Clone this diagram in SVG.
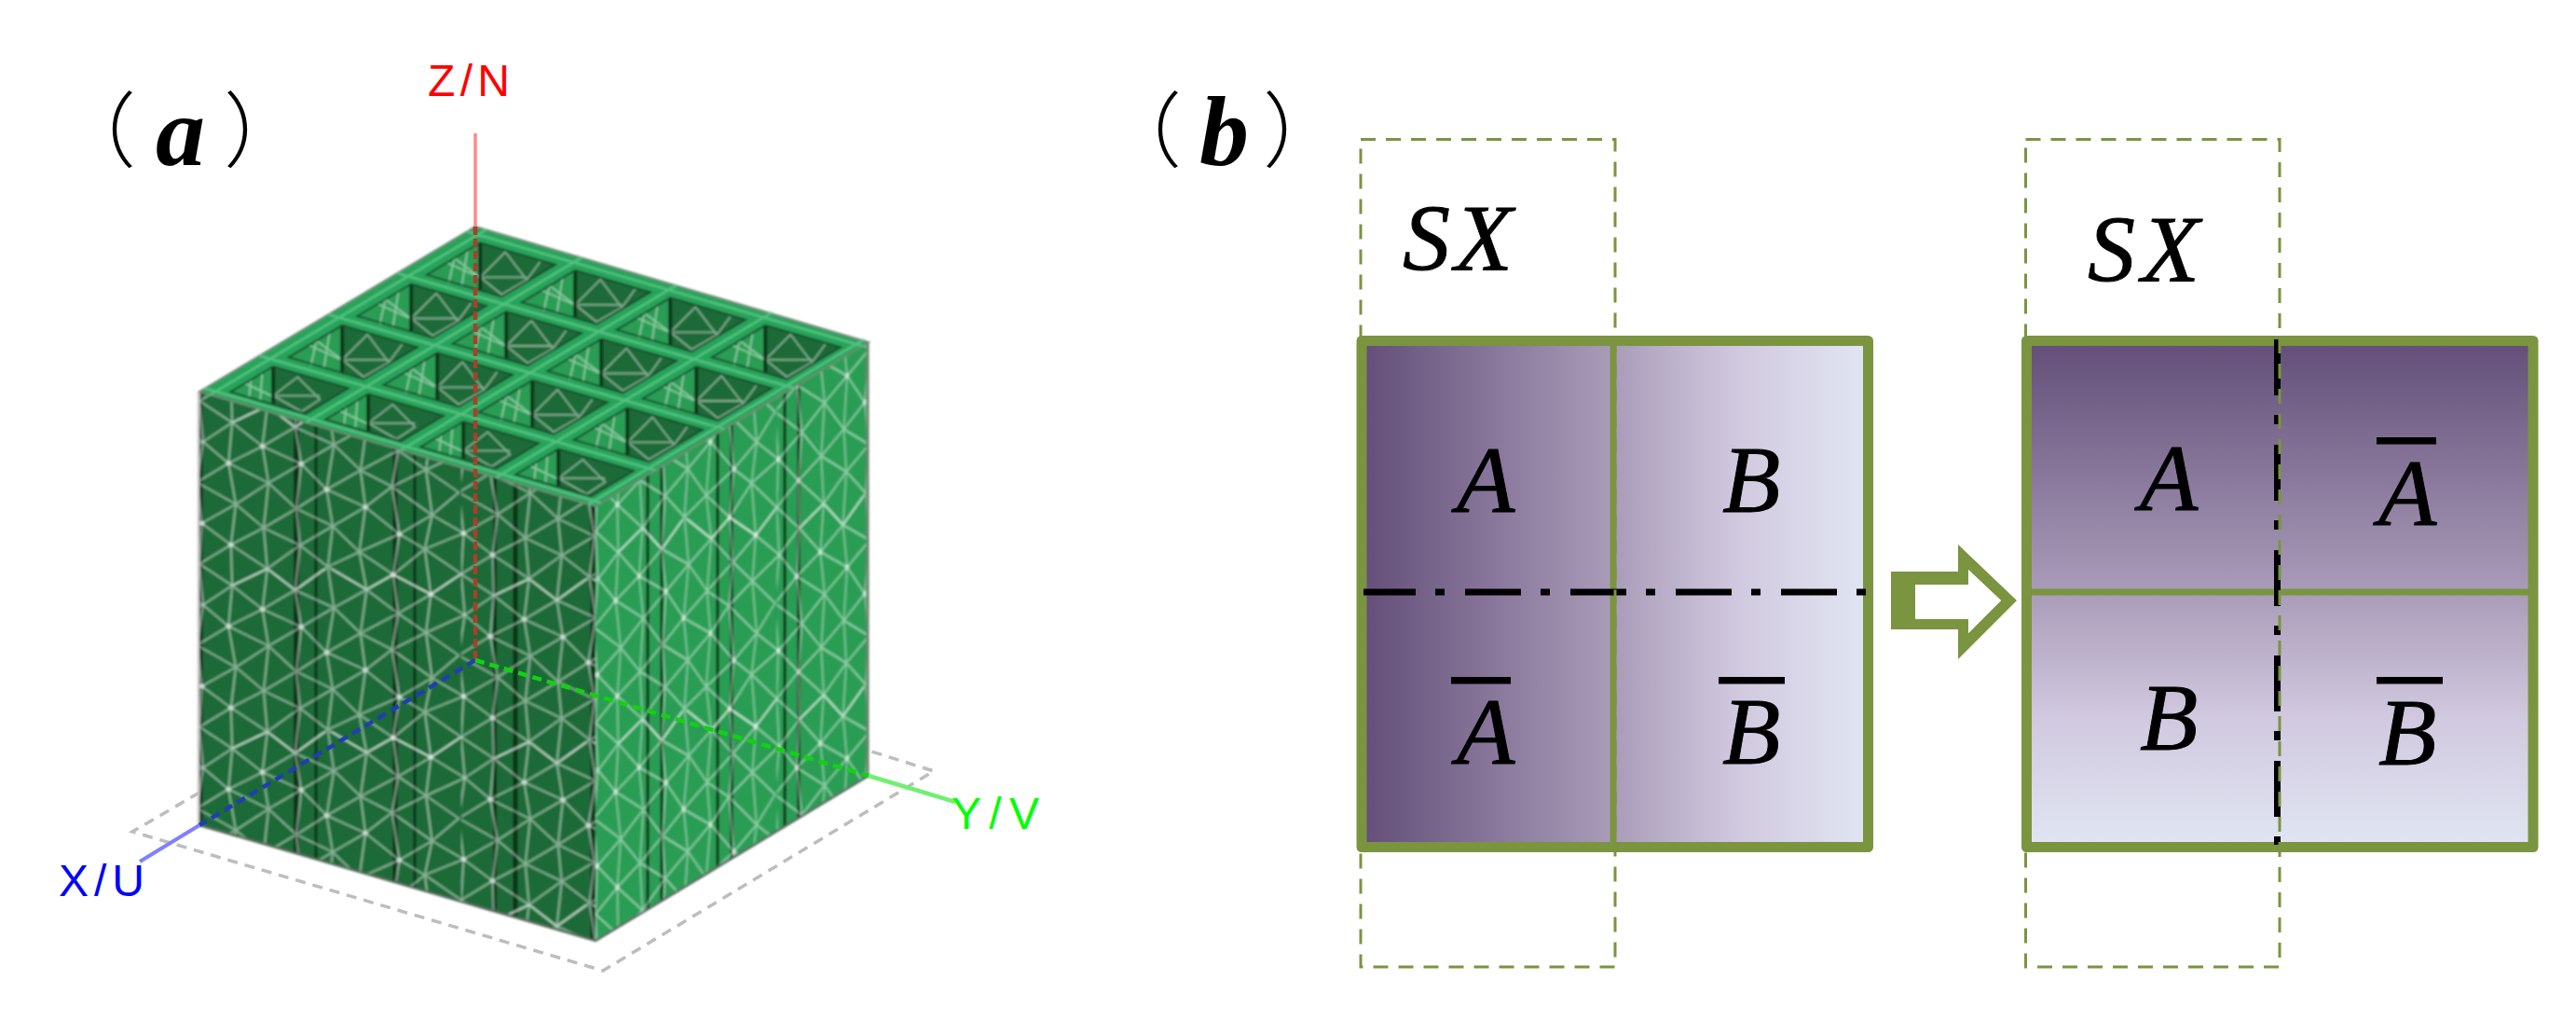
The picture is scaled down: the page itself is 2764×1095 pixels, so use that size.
<svg xmlns="http://www.w3.org/2000/svg" xmlns:xlink="http://www.w3.org/1999/xlink" width="2764" height="1095" viewBox="0 0 2764 1095">
<style>
.m{font-family:"Liberation Serif","Noto Sans CJK SC",serif;font-style:italic;font-size:102px;fill:#000;stroke:#000;stroke-width:.9}
.pl{font-family:"Noto Sans CJK SC","Liberation Serif",serif;font-size:88px;font-weight:300;fill:#000}
.lab{font-family:"Liberation Serif",serif;font-style:italic;font-weight:bold;font-size:106px;fill:#000}
.ax{font-family:"Liberation Sans",sans-serif;font-size:48px}
.bar{fill:#000}
.dr{fill:none;stroke:#7a9440;stroke-width:3;stroke-dasharray:16 11}
.box{stroke:#7a9440;stroke-width:11;stroke-linejoin:round}
.div{stroke:#7a9440;stroke-width:7;fill:none}
.dd{stroke:#000;stroke-width:7;stroke-dasharray:60 21 10 22;fill:none}
.rib{stroke:#0b3418;fill:none}
.meshl{stroke:#fff;stroke-opacity:.46;stroke-width:1.8;fill:none}
.dots{stroke:#fff;stroke-opacity:.55;stroke-width:4.500;stroke-linecap:round;fill:none}
.cm{stroke:#fff;stroke-opacity:.45;stroke-width:1.8;fill:none}
.hl{stroke:#5cc789;stroke-width:2.600;stroke-opacity:.85;fill:none}
</style>
<defs>
<linearGradient id="gh" gradientUnits="userSpaceOnUse" x1="1466" y1="0" x2="1999" y2="0">
<stop offset="0" stop-color="#64507a"/><stop offset=".5" stop-color="#aa9cb9"/><stop offset=".75" stop-color="#d1c9df"/><stop offset="1" stop-color="#e0e4f2"/>
</linearGradient>
<linearGradient id="gv" gradientUnits="userSpaceOnUse" x1="0" y1="371" x2="0" y2="903">
<stop offset="0" stop-color="#64507a"/><stop offset=".5" stop-color="#aa9cb9"/><stop offset=".75" stop-color="#d1c9df"/><stop offset="1" stop-color="#e0e4f2"/>
</linearGradient>
<g id="mt">
<path class="meshl" d="M0 0L3 38L-2 76L2 114L0 152M27 19L24 57L30 95L26 133L27 171M56 2L52 40L57 74L53 116L56 154M79 21L84 55L80 97L83 131L79 173M106 -2L111 36L105 78L110 112L106 150M138 18L133 59L137 93L132 135L138 170M160 3L164 39L159 73L165 117L160 155M191 20L187 56L192 98L186 130L191 172M0 0L27 19L3 38L24 57L-2 76L30 95L2 114L26 133L0 152M56 2L27 19L52 40L24 57L57 74L30 95L53 116L26 133L56 154L27 171M56 2L79 21L52 40L84 55L57 74L80 97L53 116L83 131L56 154L79 173M106 -2L79 21L111 36L84 55L105 78L80 97L110 112L83 131L106 150L79 173M106 -2L138 18L111 36L133 59L105 78L137 93L110 112L132 135L106 150L138 170M160 3L138 18L164 39L133 59L159 73L137 93L165 117L132 135L160 155L138 170M160 3L191 20L164 39L187 56L159 73L192 98L165 117L186 130L160 155L191 172M216 0L191 20L219 38L187 56L214 76L192 98L218 114L186 130L216 152L191 172"/>
<path class="dots" d="M52 40h0M105 78h0M137 93h0M165 117h0M24 57h0M84 55h0M191 20h0M26 133h0M160 3h0M2 114h0"/>
</g>
<pattern id="pl" patternUnits="userSpaceOnUse" width="216" height="152" patternTransform="matrix(1.3 .05 0 1.15 214 430)">
<use xlink:href="#mt"/><use xlink:href="#mt" x="-216"/><use xlink:href="#mt" y="-152"/><use xlink:href="#mt" x="-216" y="-152"/>
</pattern>
<pattern id="pr" patternUnits="userSpaceOnUse" width="216" height="152" patternTransform="matrix(.9 -.12 0 1.35 639 570)">
<use xlink:href="#mt"/><use xlink:href="#mt" x="-216"/><use xlink:href="#mt" y="-152"/><use xlink:href="#mt" x="-216" y="-152"/>
</pattern>
<g id="cell">
<path d="M0 0L57.700 -34.500V16.700Z" fill="#2a9d55"/>
<path d="M57.700 -34.500L138.450 -11.100L80.750 23.400L57.700 16.700Z" fill="#1e6b37"/>
<path class="cm" d="M30 -18L24 9M44 -26L38 12M22 -13L57.700 3M30 -18L57.700 3M57.700 2.500L84.700 -24.500L107.700 5.500L80.700 21L57.700 2.500ZM57.700 2.500H107.700M107.700 5.500L122 -14"/>
<path d="M57.700 -34.500V16.700" stroke="#0b3418" stroke-width="4"/>
<path d="M0 0L57.700 -34.500L138.450 -11.100L80.750 23.400Z" fill="none" stroke="#1d4a2e" stroke-width="2"/>
</g>
<g id="cell0">
<path d="M0 0L45.900 -27.400V13.300Z" fill="#2a9d55"/>
<path d="M45.900 -27.400L126.650 -4L80.750 23.400L45.900 13.300Z" fill="#1e6b37"/>
<path class="cm" d="M22 -13L20 6M34 -20L32 9M16 -9L45.900 5M45.900 4L72 -16L96 8L76 21L45.900 4ZM45.900 4H96"/>
<path d="M45.900 -27.400V13.300" stroke="#0b3418" stroke-width="4"/>
<path d="M0 0L45.900 -27.400L126.650 -4L80.750 23.400Z" fill="none" stroke="#1d4a2e" stroke-width="2"/>
</g>
<filter id="soft" x="-5%" y="-5%" width="110%" height="110%"><feGaussianBlur stdDeviation=".8"/></filter>
</defs>
<rect width="2764" height="1095" fill="#fff"/>

<g id="panel-a-label"><text class="pl" x="58" y="172">（</text><text class="lab" x="167" y="177">a</text><text class="pl" x="240" y="172">）</text></g>

<g id="ground-plane"><path d="M214 850L142 892L647 1041L1002 827L932 805" fill="none" stroke="#bdbdbd" stroke-width="3.500" stroke-dasharray="11 8"/></g>

<g id="cube" filter="url(#soft)">
<g id="face-left"><path d="M214 420L639 543V1009L214 885Z" fill="#1e6b37"/>
<g class="rib"><path stroke-width="5" d="M215 420V885"/><path stroke-width="6" d="M318 450V915"/><path stroke-width="3" d="M339 456V921"/><path stroke-width="5" d="M424 480V946"/><path stroke-width="3" d="M445 487V952"/><path stroke-width="4" d="M531 512V978"/><path stroke-width="5" d="M553 517V982"/><path stroke-width="5" d="M636 542V1008"/></g>
<path d="M214 420L639 543V1009L214 885Z" fill="url(#pl)"/>
<path d="M213 420V885" stroke="#c9c9c9" stroke-width="2.500" fill="none"/></g>
<g id="face-right"><path d="M639 543L932 367V832L639 1009Z" fill="#2a9d55"/>
<g class="rib" stroke-width="3"><path d="M695 509V975"/><path d="M710 500V966"/><path d="M770 465V930"/><path d="M785 455V920"/><path d="M842 421V886"/><path d="M857 412V877"/></g>
<path d="M639 543L932 367V832L639 1009Z" fill="url(#pr)"/>
<path d="M931 367V832" stroke="#6f7f74" stroke-width="3" fill="none"/></g>
<g id="face-top"><path d="M214 420L510 243L932 367L639 543Z" fill="#27a45a" stroke="#6d8a76" stroke-width="2"/>
<path class="hl" d="M219.900 416.500L644.900 539.500M278.400 381.500L703.400 504.500M352.400 337.300L777.400 460.300M426.400 293.100L851.400 416.100M501.100 248.300L926.100 371.300M225.500 423.300L521.500 246.300M328.300 453.100L624.300 276.100M430.300 482.600L726.300 305.600M532.300 512.100L828.300 335.100M631.400 540.800L927.400 363.800"/>
<use xlink:href="#cell0" transform="translate(247.300 420.400)"/><use xlink:href="#cell0" transform="translate(349.300 449.900)"/><use xlink:href="#cell0" transform="translate(451.300 479.400)"/><use xlink:href="#cell0" transform="translate(553.300 508.900)"/>
<use xlink:href="#cell" transform="translate(309.500 383.300)"/><use xlink:href="#cell" transform="translate(411.500 412.800)"/><use xlink:href="#cell" transform="translate(513.500 442.300)"/><use xlink:href="#cell" transform="translate(615.500 471.800)"/>
<use xlink:href="#cell" transform="translate(383.500 339)"/><use xlink:href="#cell" transform="translate(485.500 368.500)"/><use xlink:href="#cell" transform="translate(587.500 398)"/><use xlink:href="#cell" transform="translate(689.500 427.500)"/>
<use xlink:href="#cell" transform="translate(457.500 294.800)"/><use xlink:href="#cell" transform="translate(559.500 324.300)"/><use xlink:href="#cell" transform="translate(661.500 353.800)"/><use xlink:href="#cell" transform="translate(763.500 383.300)"/>
</g>
<path d="M214 885L639 1009L932 832" fill="none" stroke="#5a6b60" stroke-width="2.500"/>
</g>

<g id="connectors">
<g id="axes">
<path d="M510 143V243" stroke="#ff8a8a" stroke-width="3.500" fill="none"/>
<path d="M510 243V708" stroke="#a8402a" stroke-width="4.500" stroke-dasharray="9 4" fill="none"/>
<path d="M510 708L214 885" stroke="#1f3fb0" stroke-width="4.500" stroke-dasharray="10 6" fill="none"/>
<path d="M214 885L150 924" stroke="#8080ff" stroke-width="4" fill="none"/>
<path d="M510 708L932 832" stroke="#14d014" stroke-width="4.500" stroke-dasharray="10 6" fill="none"/>
<path d="M932 832L1025 860" stroke="#70f070" stroke-width="4.500" fill="none"/>
</g>
</g>
<g id="axis-labels">
<text class="ax" fill="#ff0000" x="459" y="103" textLength="88">Z/N</text>
<text class="ax" fill="#0000ff" x="63" y="961" textLength="92">X/U</text>
<text class="ax" fill="#00ff00" x="1021" y="889" textLength="94">Y/V</text>
</g>

<g id="panel-b-label"><text class="pl" x="1180" y="172">（</text><text class="lab" x="1287" y="177">b</text><text class="pl" x="1355" y="172">）</text></g>

<g id="box-left">
<rect class="box" x="1461" y="365.500" width="543.500" height="543" fill="url(#gh)"/>
<path class="div" d="M1731 371V903"/>
<path class="dd" d="M1463 635H2003" stroke-dashoffset="4"/>
<rect class="dr" x="1460" y="149.500" width="273" height="887.500"/>
<text class="m" x="1505" y="290" textLength="118">SX</text>
<text class="m" x="1563" y="549">A</text>
<text class="m" x="1848" y="549">B</text>
<rect class="bar" x="1557" y="726" width="64" height="7.500"/>
<text class="m" x="1563" y="819">A</text>
<rect class="bar" x="1844" y="726" width="71" height="7.500"/>
<text class="m" x="1848" y="819">B</text>
</g>

<g id="arrow"><path fill-rule="evenodd" fill="#7a9440" d="M2029 613H2101V584L2164 644L2101 707V675H2029ZM2055 627V664H2112V679L2147 644L2112 611V627Z"/><path fill="#fff" d="M2055 627V664H2112V679L2147 644L2112 611V627Z"/></g>

<g id="box-right">
<rect class="box" x="2174.500" y="365.500" width="543.500" height="543" fill="url(#gv)"/>
<path class="div" d="M2180 635H2713"/>
<path class="dd" d="M2443.500 364V906"/>
<rect class="dr" x="2173.500" y="149.500" width="272.500" height="887.500"/>
<text class="m" x="2240" y="302" textLength="120">SX</text>
<text class="m" x="2296" y="547">A</text>
<text class="m" x="2296" y="804">B</text>
<rect class="bar" x="2550" y="469" width="64" height="7.500"/>
<text class="m" x="2552" y="563">A</text>
<rect class="bar" x="2550" y="726" width="71" height="7.500"/>
<text class="m" x="2552" y="820">B</text>
</g>
</svg>
